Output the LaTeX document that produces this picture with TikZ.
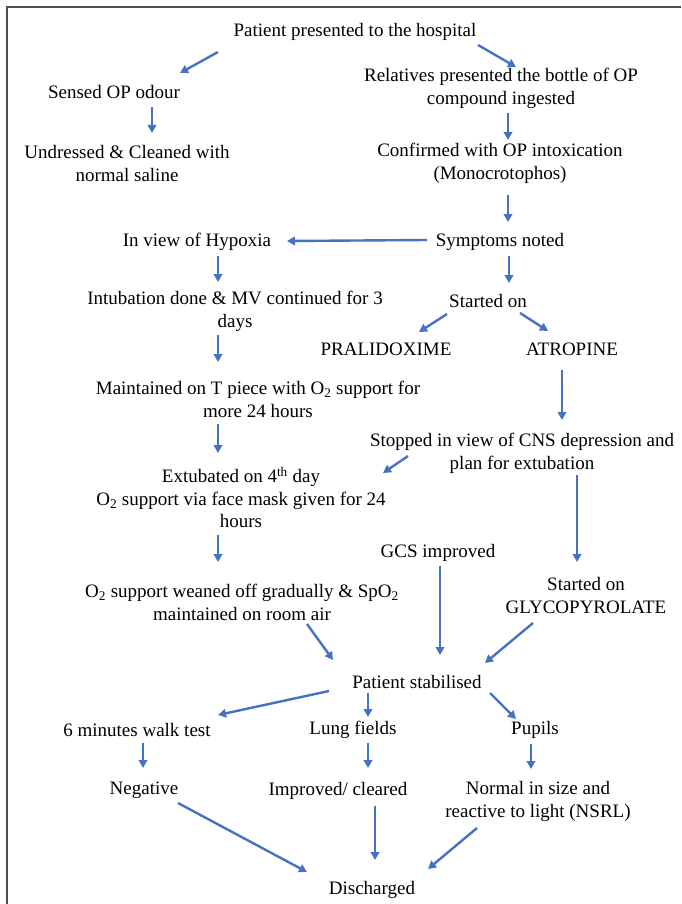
\documentclass[tikz,border=0pt]{standalone}
\usepackage{fontspec}
\setmainfont{Liberation Serif}
\usetikzlibrary{arrows.meta}
\definecolor{arrblue}{RGB}{68,114,196}
\definecolor{framegray}{RGB}{80,80,80}
\begin{document}
\begin{tikzpicture}[x=1pt,y=-1pt,
  txt/.style={align=center, inner sep=0pt, yshift=-2.5pt, font=\fontsize{19}{22.5}\selectfont},
  arr/.style={draw=arrblue, line width=2.4pt, -{Triangle[length=8pt,width=8.5pt]}}]
\useasboundingbox (0,0) rectangle (681,904);
\draw[framegray, line width=1.6pt] (7,904) -- (7,7) -- (681,7);
% nodes
\node[txt] (hosp) at (355,29) {Patient presented to the hospital};
\node[txt] (sensed) at (114,90) {Sensed OP odour};
\node[txt] (rel) at (501,86) {Relatives presented the bottle of OP\\compound ingested};
\node[txt] (undr) at (127,161) {Undressed \& Cleaned with\\normal saline};
\node[txt] (conf) at (500,161) {Confirmed with OP intoxication\\(Monocrotophos)};
\node[txt] (hyp) at (197,239) {In view of Hypoxia};
\node[txt] (symp) at (500,239) {Symptoms noted};
\node[txt] (intub) at (235,309) {Intubation done \& MV continued for 3\\days};
\node[txt] (start) at (488,298) {Started on};
\node[txt] (prali) at (386,347) {PRALIDOXIME};
\node[txt] (atro) at (572,347) {ATROPINE};
\node[txt] (maint) at (258,397) {Maintained on T piece with O\textsubscript{2} support for\\more 24 hours};
\node[txt] (stop) at (522,451) {Stopped in view of CNS depression and\\plan for extubation};
\node[txt] (extub) at (241,495) {Extubated on 4\textsuperscript{th} day\\O\textsubscript{2} support via face mask given for 24\\hours};
\node[txt] (gcs) at (438,550) {GCS improved};
\node[txt] (wean) at (242,600) {O\textsubscript{2} support weaned off gradually \& SpO\textsubscript{2}\\maintained on room air};
\node[txt] (glyco) at (586,593) {Started on\\GLYCOPYROLATE};
\node[txt] (stab) at (417,679) {Patient stabilised};
\node[txt] (walk) at (137,727) {6 minutes walk test};
\node[txt] (lung) at (353,727) {Lung fields};
\node[txt] (pup) at (535,727) {Pupils};
\node[txt] (neg) at (144,788) {Negative};
\node[txt] (impr) at (338,788) {Improved/ cleared};
\node[txt] (nsrl) at (538,799) {Normal in size and\\reactive to light (NSRL)};
\node[txt] (disc) at (372,887) {Discharged};
% arrow end points
\coordinate (a1s) at (218,52);  \coordinate (a1e) at (180,73);
\coordinate (a2s) at (478,45);  \coordinate (a2e) at (516,67);
\coordinate (a3s) at (152,107); \coordinate (a3e) at (152,133);
\coordinate (a4s) at (508,113); \coordinate (a4e) at (508,140);
\coordinate (a5s) at (508,195); \coordinate (a5e) at (508,222);
\coordinate (a6s) at (427,240); \coordinate (a6e) at (287,241);
\coordinate (a7s) at (218,256); \coordinate (a7e) at (218,282);
\coordinate (a8s) at (509,256); \coordinate (a8e) at (509,283);
\coordinate (a9s) at (447,314); \coordinate (a9e) at (419,332);
\coordinate (a10s) at (520,313); \coordinate (a10e) at (548,331);
\coordinate (a11s) at (218,335); \coordinate (a11e) at (218,362);
\coordinate (a12s) at (562,370); \coordinate (a12e) at (562,420);
\coordinate (a13s) at (218,424); \coordinate (a13e) at (218,453);
\coordinate (a14s) at (408,456); \coordinate (a14e) at (383,473);
\coordinate (a15s) at (218,535); \coordinate (a15e) at (218,562);
\coordinate (a16s) at (577,475); \coordinate (a16e) at (577,562);
\coordinate (a17s) at (440,566); \coordinate (a17e) at (440,655);
\coordinate (a18s) at (307,624); \coordinate (a18e) at (333,660);
\coordinate (a19s) at (533,623); \coordinate (a19e) at (485,663);
\coordinate (a20s) at (329,691); \coordinate (a20e) at (218,715);
\coordinate (a21s) at (368,693); \coordinate (a21e) at (368,717);
\coordinate (a22s) at (490,693); \coordinate (a22e) at (516,719);
\coordinate (a23s) at (143,743); \coordinate (a23e) at (143,768);
\coordinate (a24s) at (368,743); \coordinate (a24e) at (368,768);
\coordinate (a25s) at (531,744); \coordinate (a25e) at (531,769);
\coordinate (a26s) at (178,803); \coordinate (a26e) at (307,872);
\coordinate (a27s) at (375,806); \coordinate (a27e) at (375,860);
\coordinate (a28s) at (477,828); \coordinate (a28e) at (428,869);
\foreach \i in {1,...,28} {\draw[arr] (a\i s) -- (a\i e);}
\end{tikzpicture}
\end{document}
